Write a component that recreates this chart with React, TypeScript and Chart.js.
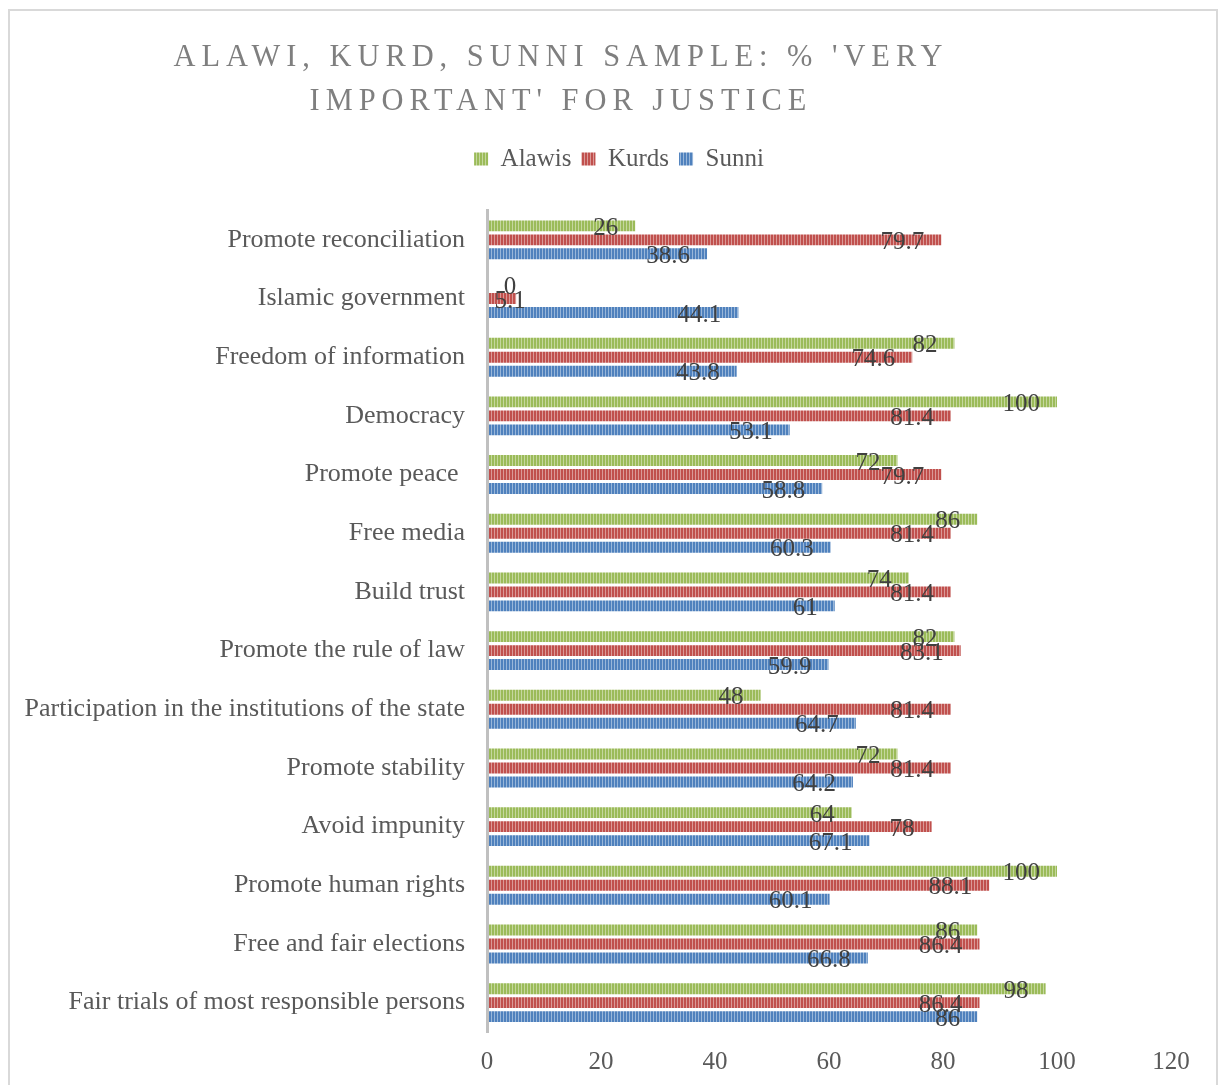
import { useEffect, useRef } from "react";
import { Chart, registerables } from "chart.js";

Chart.register(...registerables);

// Survey items, listed top to bottom
const categories = [
  "Promote reconciliation",
  "Islamic government",
  "Freedom of information",
  "Democracy",
  "Promote peace ",
  "Free media",
  "Build trust",
  "Promote the rule of law",
  "Participation in the institutions of the state",
  "Promote stability",
  "Avoid impunity",
  "Promote human rights",
  "Free and fair elections",
  "Fair trials of most responsible persons",
];

// % answering 'very important'
const alawis = [26, 0, 82, 100, 72, 86, 74, 82, 48, 72, 64, 100, 86, 98];
const kurds = [79.7, 5.1, 74.6, 81.4, 79.7, 81.4, 81.4, 83.1, 81.4, 81.4, 78, 88.1, 86.4, 86.4];
const sunni = [38.6, 44.1, 43.8, 53.1, 58.8, 60.3, 61, 59.9, 64.7, 64.2, 67.1, 60.1, 66.8, 86];

const seriesNames = ["Alawis", "Kurds", "Sunni"];
const seriesValues = [alawis, kurds, sunni];
const seriesColors = ["#9BBB59", "#C0504D", "#4F81BD"];

const axisMin = 0;
const axisMax = 120;
const axisStep = 20;

const titleLines = ["ALAWI, KURD, SUNNI SAMPLE: % 'VERY", "IMPORTANT' FOR JUSTICE"];

const SERIF = "'Liberation Serif', 'Times New Roman', serif";

// Vertical-stripe fill used for bars and legend boxes
function stripePattern(color: string): CanvasPattern | string {
  const c = document.createElement("canvas");
  c.width = 3;
  c.height = 4;
  const g = c.getContext("2d");
  if (!g) return color;
  g.fillStyle = color;
  g.fillRect(0, 0, 3, 4);
  g.fillStyle = "rgba(255,255,255,0.42)";
  g.fillRect(2, 0, 1, 4);
  return g.createPattern(c, "repeat") || color;
}

// White background and light frame around the chart
const framePlugin = {
  id: "frame",
  beforeDraw(chart: any) {
    const ctx = chart.ctx as CanvasRenderingContext2D;
    ctx.save();
    ctx.fillStyle = "#ffffff";
    ctx.fillRect(0, 0, chart.width, chart.height);
    ctx.strokeStyle = "#d9d9d9";
    ctx.lineWidth = 2;
    ctx.strokeRect(9, 10, 1208, 1200);
    ctx.restore();
  },
};

// Letter-spaced two-line title
const spacedTitlePlugin = {
  id: "spacedTitle",
  afterDraw(chart: any) {
    const ctx = chart.ctx as any;
    const spacing = 6.3;
    const sx = 0.95;
    const cx = 558;
    ctx.save();
    ctx.font = `32px ${SERIF}`;
    ctx.fillStyle = "#7f7f7f";
    ctx.textBaseline = "middle";
    ctx.textAlign = "left";
    ctx.letterSpacing = `${spacing}px`;
    titleLines.forEach((line, i) => {
      const w = (ctx.measureText(line).width - spacing) * sx;
      ctx.save();
      ctx.translate(cx - w / 2, 58 + i * 44);
      ctx.scale(sx, 1);
      ctx.fillText(line, 0, 0);
      ctx.restore();
    });
    ctx.restore();
  },
};

// Extra gap below the legend, and legend centred over the frame
const legendPlacementPlugin = {
  id: "legendPlacement",
  beforeInit(chart: any) {
    const legend = chart.legend;
    if (!legend) return;
    const fit = legend.fit;
    legend.fit = function () {
      fit.call(this);
      this.height += 29;
    };
  },
  afterLayout(chart: any) {
    if (chart.legend) chart.legend.left = 67;
  },
};

// Value labels at the inner end of each bar
const valueLabelPlugin = {
  id: "valueLabels",
  afterDatasetsDraw(chart: any) {
    const ctx = chart.ctx as CanvasRenderingContext2D;
    const x0 = chart.scales.x.getPixelForValue(0);
    ctx.save();
    ctx.font = `25px ${SERIF}`;
    ctx.fillStyle = "#404040";
    ctx.textBaseline = "middle";
    ctx.textAlign = "center";
    chart.data.datasets.forEach((ds: any, di: number) => {
      const meta = chart.getDatasetMeta(di);
      meta.data.forEach((bar: any, i: number) => {
        const text = String(ds.data[i]);
        const w = ctx.measureText(text).width;
        const xc = Math.max(bar.x - 17 - w / 2, x0 + 23);
        ctx.fillText(text, xc, bar.y + 2.5);
      });
    });
    ctx.restore();
  },
};

export default function App() {
  const canvasRef = useRef<HTMLCanvasElement>(null);

  useEffect(() => {
    const canvas = canvasRef.current;
    if (!canvas) return;

    const datasets = seriesNames.map((name, i) => ({
      label: name,
      data: seriesValues[i],
      backgroundColor: stripePattern(seriesColors[i]),
      borderWidth: 0,
    }));

    const chart = new Chart(canvas, {
      type: "bar",
      data: { labels: categories, datasets: datasets as any },
      options: {
        indexAxis: "y",
        responsive: false,
        animation: false,
        devicePixelRatio: 1,
        layout: { padding: { top: 136.5, left: 0, right: 48, bottom: 8 } },
        datasets: { bar: { categoryPercentage: 0.715, barPercentage: 0.78 } } as any,
        scales: {
          x: {
            min: axisMin,
            max: axisMax,
            ticks: {
              stepSize: axisStep,
              font: { family: SERIF, size: 25 },
              color: "#595959",
              padding: 15,
              maxRotation: 0,
              minRotation: 0,
            },
            grid: { display: false, drawTicks: false },
            border: { display: false },
            afterFit: (scale: any) => {
              scale.height = 45;
            },
          },
          y: {
            ticks: { font: { family: SERIF, size: 26 }, color: "#595959", padding: 22, autoSkip: false },
            grid: { display: false, drawTicks: false },
            border: { display: true, color: "#c0c0c0", width: 3, z: 1 } as any,
            afterFit: (scale: any) => {
              scale.width = 487;
            },
          },
        },
        plugins: {
          title: { display: false },
          tooltip: { enabled: false },
          legend: {
            display: true,
            position: "top",
            labels: {
              font: { family: SERIF, size: 25 },
              color: "#595959",
              boxWidth: 14,
              boxHeight: 13,
              padding: 10,
            },
          },
        },
      },
      plugins: [framePlugin, spacedTitlePlugin, legendPlacementPlugin, valueLabelPlugin],
    });

    return () => chart.destroy();
  }, []);

  return (
    <div style={{ position: "fixed", left: 0, top: 0, width: 1219, height: 1085, background: "#ffffff" }}>
      <canvas ref={canvasRef} width={1219} height={1085} />
    </div>
  );
}
